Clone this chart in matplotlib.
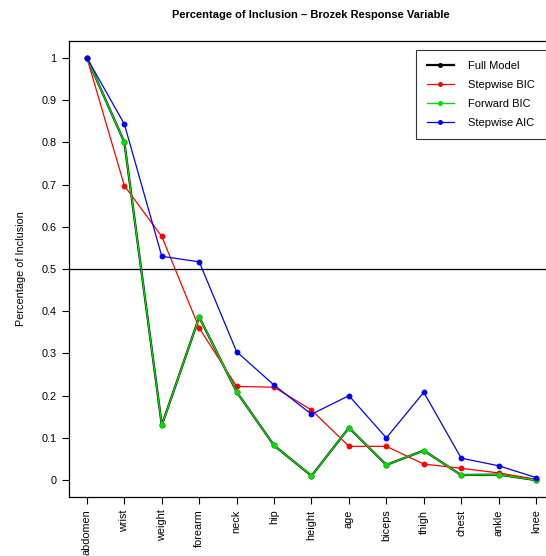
import matplotlib
matplotlib.use("Agg")
import matplotlib.pyplot as plt
import numpy as np

plt.rcParams['font.family'] = ['Liberation Sans', 'DejaVu Sans']

variables = ["abdomen", "wrist", "weight", "forearm", "neck", "hip", "height",
             "age", "biceps", "thigh", "chest", "ankle", "knee"]
forward_bic = [1.0, 0.800, 0.130, 0.386, 0.209, 0.082, 0.010, 0.124, 0.036, 0.070, 0.012, 0.013, 0.000]
full_model = [1.0, 0.800, 0.130, 0.386, 0.209, 0.082, 0.010, 0.124, 0.036, 0.070, 0.012, 0.013, 0.000]
stepwise_bic = [1.0, 0.697, 0.577, 0.360, 0.222, 0.220, 0.166, 0.080, 0.080, 0.038, 0.028, 0.017, 0.002]
stepwise_aic = [1.0, 0.843, 0.530, 0.517, 0.304, 0.225, 0.156, 0.200, 0.100, 0.208, 0.052, 0.034, 0.006]
yticks = [0, 0.1, 0.2, 0.3, 0.4, 0.5, 0.6, 0.7, 0.8, 0.9, 1]
yticklabels = ["0", "0.1", "0.2", "0.3", "0.4", "0.5", "0.6", "0.7", "0.8", "0.9", "1"]

W, H = 546, 556
fig = plt.figure(figsize=(W / 100, H / 100), dpi=100)
left, right, top, bottom = 69, 554, 41, 497
ax = fig.add_axes([left / W, (H - bottom) / H, (right - left) / W, (bottom - top) / H])

x = np.arange(1, len(variables) + 1)
ax.axhline(0.5, color='black', lw=0.9, zorder=1)
ax.plot(x, full_model, color='black', lw=1.6, marker='o', ms=3.2, label='Full Model', zorder=2)
ax.plot(x, stepwise_bic, color='#ff0000', lw=0.9, marker='o', ms=3.2, label='Stepwise BIC', zorder=3)
ax.plot(x, forward_bic, color='#00dd00', lw=1.0, marker='o', ms=3.2, label='Forward BIC', zorder=4)
ax.plot(x, stepwise_aic, color='#0000ff', lw=0.9, marker='o', ms=3.2, label='Stepwise AIC', zorder=5)

ax.set_xlim(0.52, 13.48)
ax.set_ylim(-0.04, 1.04)
ax.set_xticks(x)
ax.set_xticklabels(variables, rotation=90, fontsize=7.8)
ax.set_yticks(yticks)
ax.set_yticklabels(yticklabels, fontsize=7.8)
ax.tick_params(direction='out', length=5, width=0.8, pad=4)
for s in ax.spines.values():
    s.set_linewidth(0.9)
ax.set_ylabel("Percentage of Inclusion", fontsize=7.8, labelpad=11)
fig.text(311 / W, 1 - 15 / H, "Percentage of Inclusion \u2013 Brozek Response Variable",
         ha='center', va='center', fontsize=8, fontweight='bold')

leg = ax.legend(loc='upper right', bbox_to_anchor=((546 - left) / (right - left), 1 - (50 - top) / (bottom - top)),
                fontsize=8, frameon=True, fancybox=False, edgecolor='black',
                borderpad=1.0, handlelength=2.4, handletextpad=1.3, labelspacing=0.8,
                markerscale=0.8, borderaxespad=0)
leg.get_frame().set_linewidth(0.8)

fig.savefig("out.png", dpi=100)
